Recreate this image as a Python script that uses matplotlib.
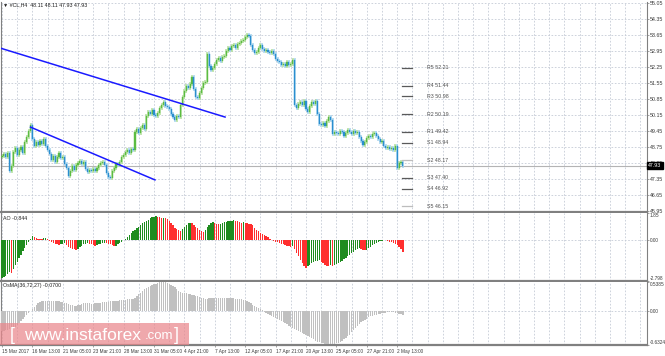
import numpy as np
import matplotlib.pyplot as plt
from matplotlib.patches import Rectangle

# ------------------------------------------------------------
# values (H4 bars, #CL)
# ------------------------------------------------------------
first_open = 48.30
closes = [
    48.35, 48.45, 48.30, 48.50, 47.70, 47.90, 48.55, 48.70, 48.40, 48.60, 48.75, 48.50, 48.95, 49.20, 49.45, 49.70,
    49.10, 48.80, 48.95, 48.85, 49.00, 48.90, 49.10, 48.80, 48.60, 48.45, 48.20, 48.35, 48.10, 48.30, 48.50, 48.25,
    48.30, 48.00, 47.85, 47.50, 47.70, 47.90, 47.75, 47.95, 48.05, 48.15, 48.00, 48.10, 47.80, 47.65, 47.75, 47.70,
    47.80, 47.70, 47.85, 47.95, 48.05, 48.10, 47.95, 47.60, 47.45, 47.40, 47.70, 47.85, 48.00, 47.95, 48.10, 48.30,
    48.40, 48.55, 48.60, 48.50, 48.65, 48.60, 49.40, 49.55, 49.35, 49.60, 49.70, 49.55, 50.10, 50.30, 50.20, 50.35,
    50.15, 50.10, 50.25, 50.45, 50.60, 50.70, 50.55, 50.50, 50.40, 50.20, 50.05, 49.95, 50.10, 50.05, 50.60, 50.95,
    51.20, 51.40, 51.35, 51.50, 51.80, 51.30, 50.95, 50.90, 51.10, 51.35, 51.55, 51.60, 52.80, 52.30, 52.10, 52.20,
    52.40, 52.55, 52.65, 52.50, 52.70, 52.75, 52.95, 53.10, 53.00, 53.15, 53.20, 53.10, 53.25, 53.30, 53.40, 53.45,
    53.55, 53.65, 53.60, 53.20, 53.00, 52.85, 52.90, 53.10, 53.20, 53.05, 52.95, 53.00, 52.90, 52.85, 52.95, 52.80,
    52.60, 52.50, 52.45, 52.35, 52.40, 52.30, 52.45, 52.35, 52.40, 52.55, 50.60, 50.45, 50.65, 50.70, 50.60, 50.75,
    50.40, 50.30, 50.55, 50.70, 50.65, 50.75, 50.20, 49.75, 49.70, 49.80, 49.65, 49.90, 50.05, 49.95, 49.30, 49.40,
    49.35, 49.30, 49.45, 49.40, 49.25, 49.35, 49.50, 49.40, 49.30, 49.45, 49.35, 49.40, 49.20, 49.00, 48.85, 48.95,
    49.15, 49.25, 49.20, 49.30, 49.35, 49.25, 49.10, 48.95, 49.00, 48.80, 48.70, 48.75, 48.65, 48.70, 48.60, 48.80,
    47.85, 48.05, 48.11, 47.93,
]
last_price = 47.93

ao_values = [
    -2.60, -2.52, -2.45, -2.35, -2.20, -2.25, -1.95, -1.72, -1.50, -1.25, -1.00, -0.78, -0.55, -0.35, -0.15, 0.10,
    0.25, 0.24, 0.15, 0.10, 0.08, 0.05, 0.12, 0.16, 0.05, -0.05, -0.10, -0.20, -0.25, -0.30, -0.35, -0.30,
    -0.25, -0.22, -0.35, -0.45, -0.52, -0.58, -0.64, -0.68, -0.60, -0.50, -0.40, -0.30, -0.24, -0.20, -0.25, -0.30,
    -0.35, -0.38, -0.33, -0.30, -0.25, -0.22, -0.20, -0.22, -0.25, -0.30, -0.35, -0.40, -0.38, -0.30, -0.20, -0.10,
    0.00, 0.10, 0.20, 0.35, 0.45, 0.60, 0.70, 0.80, 0.92, 1.05, 1.15, 1.25, 1.32, 1.40, 1.48, 1.55,
    1.60, 1.63, 1.58, 1.55, 1.52, 1.54, 1.50, 1.42, 1.30, 1.15, 1.00, 0.85, 0.75, 0.68, 0.65, 0.75,
    0.90, 1.05, 1.15, 1.20, 1.15, 1.05, 0.90, 0.80, 0.70, 0.60, 0.53, 0.70, 0.90, 1.05, 1.15, 1.25,
    1.20, 1.12, 1.08, 1.12, 1.18, 1.22, 1.25, 1.28, 1.30, 1.32, 1.34, 1.30, 1.28, 1.25, 1.20, 1.22,
    1.18, 1.15, 1.12, 1.10, 1.00, 0.85, 0.70, 0.60, 0.50, 0.42, 0.36, 0.30, 0.20, 0.10, 0.03, -0.05,
    -0.10, -0.15, -0.20, -0.25, -0.30, -0.35, -0.38, -0.42, -0.45, -0.40, -0.60, -0.85, -1.10, -1.35, -1.60, -1.80,
    -1.90, -1.80, -1.70, -1.60, -1.50, -1.45, -1.40, -1.38, -1.50, -1.60, -1.70, -1.75, -1.78, -1.72, -1.76, -1.70,
    -1.65, -1.58, -1.50, -1.40, -1.30, -1.20, -1.10, -1.00, -0.90, -0.80, -0.70, -0.62, -0.56, -0.60, -0.65, -0.68,
    -0.66, -0.55, -0.45, -0.35, -0.25, -0.18, -0.12, -0.07, -0.04, 0.03, 0.02, -0.05, -0.10, -0.15, -0.20, -0.28,
    -0.35, -0.45, -0.60, -0.844,
]

osma_values = [
    -0.38, -0.37, -0.36, -0.35, -0.34, -0.33, -0.31, -0.29, -0.26, -0.23, -0.19, -0.15, -0.11, -0.07,
    -0.03, 0.00, 0.04,
    0.08, 0.11, 0.14, 0.16, 0.18, 0.19, 0.19,
    0.19, 0.19, 0.19, 0.19, 0.18, 0.18, 0.18, 0.17, 0.16, 0.15,
    0.14, 0.13, 0.12, 0.11, 0.10, 0.10, 0.11, 0.12,
    0.13, 0.14, 0.14, 0.14, 0.14, 0.13, 0.13, 0.14, 0.14, 0.15, 0.15, 0.16, 0.16, 0.17, 0.17, 0.18,
    0.18, 0.18, 0.19, 0.19, 0.20, 0.20, 0.21, 0.21, 0.22, 0.22, 0.22, 0.23,
    0.25, 0.28, 0.31, 0.34, 0.37, 0.40, 0.43, 0.45, 0.47, 0.49, 0.50, 0.51, 0.52, 0.53, 0.53, 0.53,
    0.53, 0.52, 0.51, 0.49, 0.47, 0.44, 0.41, 0.38, 0.36, 0.34, 0.33, 0.33, 0.32, 0.31, 0.30, 0.29,
    0.28, 0.27, 0.26, 0.25, 0.24, 0.23, 0.23, 0.24, 0.25, 0.25, 0.24, 0.24, 0.24, 0.25, 0.25, 0.25,
    0.25, 0.25, 0.24, 0.24, 0.24, 0.23, 0.23, 0.22, 0.22, 0.21, 0.20, 0.18, 0.16, 0.14, 0.12, 0.10,
    0.07, 0.05, 0.03, 0.01, -0.01, -0.03, -0.05, -0.07, -0.09, -0.11, -0.13, -0.15, -0.17, -0.19, -0.21, -0.23,
    -0.25, -0.27, -0.29, -0.31, -0.33, -0.35, -0.37, -0.39, -0.41, -0.43, -0.45, -0.47, -0.49, -0.51, -0.53, -0.55,
    -0.57, -0.58, -0.59, -0.60, -0.61, -0.62, -0.62, -0.62, -0.62, -0.61, -0.60, -0.59, -0.57, -0.55, -0.52, -0.50,
    -0.47, -0.44, -0.40, -0.36, -0.32, -0.28, -0.24, -0.21, -0.18, -0.16, -0.14, -0.12, -0.10, -0.09, -0.08, -0.07,
    -0.06, -0.05, -0.04, -0.03, -0.03, -0.02, -0.02, -0.02, -0.02, -0.03, -0.04, -0.05, -0.06, -0.07,
]

date_labels = ["15 Mar 2017", "16 Mar 13:00", "21 Mar 05:00", "23 Mar 21:00", "28 Mar 13:00",
               "31 Mar 05:00", "4 Apr 21:00", "7 Apr 13:00", "12 Apr 05:00", "17 Apr 21:00",
               "20 Apr 13:00", "25 Apr 05:00", "27 Apr 21:00", "2 May 13:00"]
price_ticks = [55.05, 54.35, 53.65, 52.95, 52.25, 51.55, 50.85, 50.15,
               49.45, 48.75, 48.05, 47.35, 46.65, 45.95]
ao_ticks = [1.85, 0.0, -2.798]
ao_tick_labels = ["1.85", "0.00", "-2.798"]
osma_ticks = [0.5385, 0.0, -0.6324]
osma_tick_labels = ["0.5385", "0.00", "-0.6324"]

pivot_names = ["R5", "R4", "R3", "R2", "R1", "S1", "S2", "S3", "S4", "S5"]
pivot_levels = [52.21, 51.44, 50.98, 50.19, 49.42, 48.94, 48.17, 47.40, 46.92, 46.15]

# trend lines drawn on the chart (bar index, price)
trend_long_x = [-1.0, 117.4]
trend_long_y = [53.08, 50.06]
trend_short_x = [15.0, 80.5]
trend_short_y = [49.62, 47.31]

# ------------------------------------------------------------
# layout
# ------------------------------------------------------------
W, H = 665, 356
BAR_PX = 1.9
FS = 3.8
FONT = "Liberation Sans"
GRID = dict(color="#c5cbd6", linestyle=(0, (2, 2)), linewidth=0.6)
TXT = "#3a3a3a"
FRAME = "#808080"

plt.rcParams["font.family"] = [FONT, "DejaVu Sans"]

fig = plt.figure(figsize=(W / 100, H / 100), dpi=100)
fig.patch.set_facecolor("white")


def px_axes(x0, y0, x1, y1):
    return fig.add_axes([x0 / W, 1 - y1 / H, (x1 - x0) / W, (y1 - y0) / H])


ax_main = px_axes(1, 2, 647, 212)
ax_ao = px_axes(1, 213, 647, 281)
ax_os = px_axes(1, 282, 647, 345)

xmax = (647 - 2) / BAR_PX
for ax in (ax_main, ax_ao, ax_os):
    ax.set_xlim(-0.53, xmax)
    for k in np.arange(0, xmax, 8):
        ax.axvline(k, zorder=0, **GRID)
    for s in ax.spines.values():
        s.set_color(FRAME)
        s.set_linewidth(0.8)
    ax.spines["bottom"].set_linewidth(1.6)
    ax.spines["top"].set_visible(False)
    ax.yaxis.tick_right()
    ax.tick_params(axis="y", length=1.2, width=0.5, color=FRAME, labelsize=FS,
                   labelcolor=TXT, pad=0.6)
    ax.set_xticks([])

# ---------------- main price panel ----------------
pad = 0.7 / 16
ax_main.set_ylim(price_ticks[-1] - pad, price_ticks[0] + pad)
ax_main.set_yticks(price_ticks)
ax_main.set_yticklabels([f"{p:.2f}" for p in price_ticks])
for p in price_ticks:
    ax_main.axhline(p, zorder=0, **GRID)

closes = np.array(closes)
opens = np.concatenate([[first_open], closes[:-1]])
xi = np.arange(len(closes))
up = closes >= opens
lo = np.minimum(opens, closes)
hi = np.maximum(opens, closes)
wick = 0.09
ax_main.vlines(xi[up], lo[up] - wick, hi[up] + wick, color="#b3df9c", lw=1.1, zorder=2)
ax_main.vlines(xi[~up], lo[~up] - wick, hi[~up] + wick, color="#a7d5ef", lw=1.1, zorder=2)
ax_main.bar(xi[up], (hi - lo)[up], bottom=lo[up], width=0.6, color="#5cbc42",
            edgecolor="#5cbc42", lw=0.3, zorder=3)
ax_main.bar(xi[~up], (hi - lo)[~up], bottom=lo[~up], width=0.6, color="#2a8ecf",
            edgecolor="#2a8ecf", lw=0.3, zorder=3)

ax_main.axhline(last_price, color="#b4b4b4", lw=0.8, zorder=1)
ax_main.plot(trend_long_x, trend_long_y, color="#1a1aff", lw=1.1, zorder=4)
ax_main.plot(trend_short_x, trend_short_y, color="#1a1aff", lw=1.1, zorder=4)

# pivot levels
for name, lvl in zip(pivot_names, pivot_levels):
    c = "#bdbdbd" if name in ("S2", "S5") else "#5a5a5a"
    ax_main.plot([210.5, 215.8], [lvl, lvl], color=c, lw=0.9, zorder=4)
    ax_main.text(223.5, lvl, f"{name} {lvl:.2f}", fontsize=FS, color="#505050",
                 va="center", ha="left")

ax_main.text(1.002, last_price, f"{last_price:.2f}", transform=ax_main.get_yaxis_transform(),
             fontsize=FS, color="white", va="center", ha="left", clip_on=False,
             bbox=dict(boxstyle="square,pad=0.2", fc="black", ec="black"), zorder=6)

# ---------------- AO panel ----------------
ao = np.array(ao_values)
xa = np.arange(len(ao))
rising = np.concatenate([[True], ao[1:] >= ao[:-1]])
ax_ao.bar(xa, ao, width=0.7, color=np.where(rising, "#1f8c1f", "#ff2f2f"), lw=0, zorder=3)
ax_ao.set_ylim(-2.798, 1.85)
ax_ao.set_yticks(ao_ticks)
ax_ao.set_yticklabels(ao_tick_labels)
ax_ao.axhline(0, zorder=0, **GRID)

# ---------------- OsMA panel ----------------
xo = np.arange(len(osma_values))
ax_os.bar(xo, osma_values, width=0.7, color="#c0c0c0", lw=0, zorder=3)
ax_os.set_ylim(-0.6324, 0.5385)
ax_os.set_yticks(osma_ticks)
ax_os.set_yticklabels(osma_tick_labels)
ax_os.axhline(0, zorder=0, **GRID)

for ax in (ax_ao, ax_os):
    ax.tick_params(axis="y", labelsize=FS - 0.35)
    labs = ax.get_yticklabels()
    labs[0].set_va("top")
    labs[-1].set_va("bottom")

ax_os.set_xticks(np.arange(len(date_labels)) * 16)
ax_os.set_xticklabels(date_labels, ha="left")
ax_os.tick_params(axis="x", length=1.5, width=0.5, color=FRAME, labelsize=FS - 0.4,
                  labelcolor=TXT, pad=1.5)

# ---------------- header texts ----------------
fig.text(3 / W, 1 - 5 / H, "\u25bc #CL,H4  48.11 48.11 47.93 47.93", fontsize=FS,
         color="#202020", va="center")
fig.text(3 / W, 1 - 218 / H, "AO -0.844", fontsize=FS, color="#202020", va="center")
fig.text(3 / W, 1 - 286 / H, "OsMA(36,72,27) -0.0700", fontsize=FS, color="#202020", va="center")

# ---------------- watermark ----------------
fig.add_artist(Rectangle((0, 1 - 345 / H), 189 / W, 22 / H, transform=fig.transFigure,
                         facecolor="#e9878c", alpha=0.72, lw=0, zorder=10))
wm = dict(color="white", va="center", zorder=11)
fig.text(10 / W, 1 - 336 / H, "[", fontsize=13, **wm)
fig.text(24 / W, 1 - 335 / H, "www.instaforex", fontsize=12.5, **wm)
fig.text(145 / W, 1 - 336 / H, ".com", fontsize=9.5, **wm)
fig.text(174 / W, 1 - 336 / H, "]", fontsize=13, **wm)

fig.savefig("out.png", dpi=100, facecolor="white")
